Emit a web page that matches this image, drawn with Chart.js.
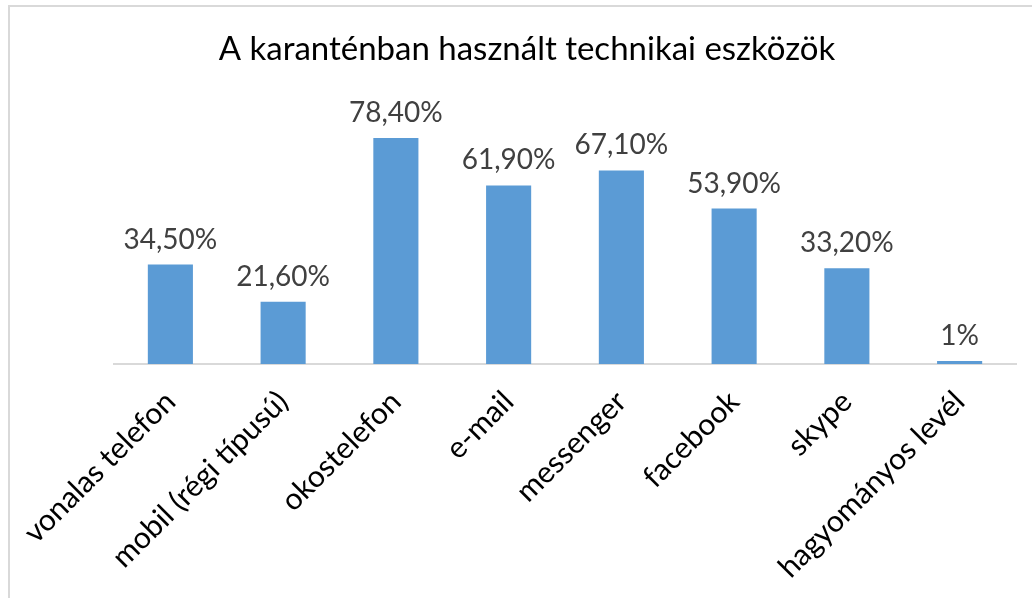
<!DOCTYPE html>
<html>
<head>
<meta charset="utf-8">
<script src="https://cdn.jsdelivr.net/npm/chart.js@4.4.1/dist/chart.umd.min.js"></script>
<style>
  body { margin: 0; background: #fff; }
  #wrap { width: 1032px; height: 598px; position: relative; }
</style>
</head>
<body>
<div id="wrap"><canvas id="myChart"></canvas></div>
<script>
var categories = ['vonalas telefon', 'mobil (régi típusú)', 'okostelefon', 'e-mail',
                  'messenger', 'facebook', 'skype', 'hagyományos levél'];
var values = [34.5, 21.6, 78.4, 61.9, 67.1, 53.9, 33.2, 1];
var valueLabels = ['34,50%', '21,60%', '78,40%', '61,90%', '67,10%', '53,90%', '33,20%', '1%'];

// light frame like the exported picture
var framePlugin = {
    id: 'frame',
    beforeDraw: function(chart) {
        var c = chart.ctx;
        c.save();
        c.strokeStyle = '#d9d9d9';
        c.lineWidth = 2;
        c.beginPath();
        c.moveTo(9, 598);
        c.lineTo(9, 6);
        c.lineTo(1032, 6);
        c.stroke();
        c.restore();
    }
};

// value labels above each bar
var labelPlugin = {
    id: 'valueLabels',
    afterDatasetsDraw: function(chart) {
        var c = chart.ctx;
        var meta = chart.getDatasetMeta(0);
        c.save();
        c.font = '28px Lato';
        c.fillStyle = '#404040';
        c.textAlign = 'center';
        c.textBaseline = 'alphabetic';
        meta.data.forEach(function(bar, i) {
            c.fillText(valueLabels[i], bar.x, bar.y - 16);
        });
        c.restore();
    }
};

const ctx = document.getElementById('myChart');

new Chart(ctx, {
    type: 'bar',
    data: {
        labels: categories,
        datasets: [{
            data: values,
            backgroundColor: '#5b9bd5',
            categoryPercentage: 1,
            barPercentage: 0.4
        }]
    },
    options: {
        responsive: true,
        maintainAspectRatio: false,
        animation: false,
        layout: {
            padding: { left: 22, right: 0, top: 0, bottom: 0 }
        },
        plugins: {
            legend: { display: false },
            tooltip: { enabled: false },
            title: {
                display: true,
                text: 'A karanténban használt technikai eszközök',
                color: '#000',
                font: { family: 'Lato', size: 33, weight: 'normal' },
                padding: { top: 30, bottom: 6 }
            }
        },
        scales: {
            y: {
                min: 0,
                max: 100,
                grid: { display: false },
                border: { display: false },
                ticks: { display: false },
                afterFit: function(scale) { scale.width = 92; }
            },
            y2: {
                position: 'right',
                grid: { display: false },
                border: { display: false },
                ticks: { display: false },
                afterFit: function(scale) { scale.width = 16; }
            },
            x: {
                grid: { display: false },
                border: { color: '#d9d9d9', width: 2 },
                ticks: {
                    color: '#000',
                    font: { family: 'Lato', size: 30 },
                    minRotation: 45,
                    maxRotation: 45,
                    padding: 12
                },
                afterFit: function(scale) {
                    scale.height = 234;
                }
            }
        }
    },
    plugins: [framePlugin, labelPlugin]
});
</script>
</body>
</html>
